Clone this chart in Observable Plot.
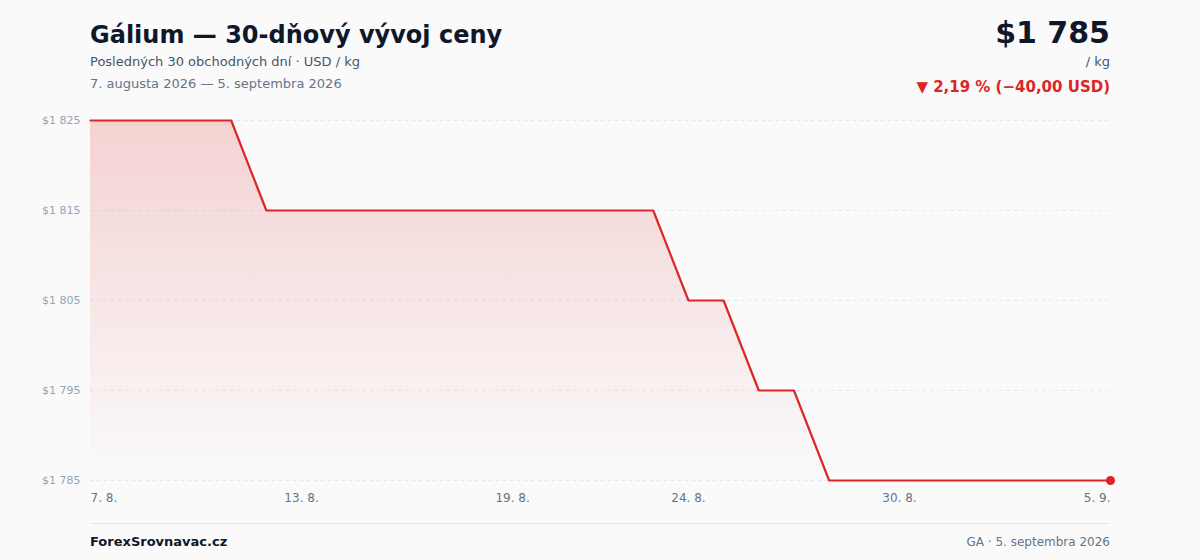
<!DOCTYPE html>
<html>
<head>
<meta charset="utf-8">
<script src="https://cdn.jsdelivr.net/npm/d3@7"></script>
<script src="https://cdn.jsdelivr.net/npm/@observablehq/plot@0.6"></script>
<style>
  html, body { margin: 0; padding: 0; background: #fafafa; }
  body { width: 1200px; height: 560px; overflow: hidden; font-family: "DejaVu Sans", sans-serif; }
  .hdr, .ftr { position: relative; width: 1200px; }
  .hdr { height: 100px; }
  .ftr { height: 40px; }
  .t { position: absolute; line-height: 1; white-space: nowrap; }
  #chart svg { display: block; }
</style>
</head>
<body>
<div class="hdr">
  <div class="t" style="left:90px; top:22.5px; font-size:24px; font-weight:bold; color:#0f172a;">Gálium — 30-dňový vývoj ceny</div>
  <div class="t" style="left:90px; top:55px; font-size:13px; color:#475569;">Posledných 30 obchodných dní · USD / kg</div>
  <div class="t" style="left:90px; top:76.5px; font-size:13px; color:#64748b;">7. augusta 2026 — 5. septembra 2026</div>
  <div class="t" style="right:90px; top:17.5px; font-size:30px; font-weight:bold; color:#0f172a;">$1 785</div>
  <div class="t" style="right:90px; top:54.5px; font-size:13px; color:#475569;">/ kg</div>
  <div class="t" style="right:90px; top:79.5px; font-size:15px; font-weight:bold; color:#dc2626;">▼ 2,19 % (−40,00 USD)</div>
</div>
<div id="chart"></div>
<div class="ftr">
  <div style="position:absolute; left:90px; width:1020px; top:3px; height:1px; background:#e5e7eb;"></div>
  <div class="t" style="left:90px; top:15px; font-size:13px; font-weight:bold; color:#0f172a;">ForexSrovnavac.cz</div>
  <div class="t" style="right:90px; top:15.5px; font-size:12px; color:#64748b;">GA · 5. septembra 2026</div>
</div>
<script>
// Data
const dates = [
  "2026-08-07","2026-08-08","2026-08-09","2026-08-10","2026-08-11",
  "2026-08-12","2026-08-13","2026-08-14","2026-08-15","2026-08-16",
  "2026-08-17","2026-08-18","2026-08-19","2026-08-20","2026-08-21",
  "2026-08-22","2026-08-23","2026-08-24","2026-08-25","2026-08-26",
  "2026-08-27","2026-08-28","2026-08-29","2026-08-30","2026-08-31",
  "2026-09-01","2026-09-02","2026-09-03","2026-09-04","2026-09-05"
];
const prices = [
  1825, 1825, 1825, 1825, 1825,
  1815, 1815, 1815, 1815, 1815, 1815, 1815, 1815, 1815, 1815, 1815, 1815,
  1805, 1805,
  1795, 1795,
  1785, 1785, 1785, 1785, 1785, 1785, 1785, 1785, 1785
];
const yTicks = [1785, 1795, 1805, 1815, 1825];
const xTickDates = ["2026-08-07","2026-08-13","2026-08-19","2026-08-24","2026-08-30","2026-09-05"];
const xTickLabels = ["7. 8.","13. 8.","19. 8.","24. 8.","30. 8.","5. 9."];

const data = dates.map((d, i) => ({date: new Date(d + "T00:00:00Z"), value: prices[i]}));
const xticks = xTickDates.map((d, i) => ({date: new Date(d + "T00:00:00Z"), label: xTickLabels[i]}));
const yMin = d3.min(yTicks), yMax = d3.max(yTicks);
const fmtY = v => "$" + d3.format(",")(v).replace(/,/g, " ");
const RED = "#dc2626";

const defs = () => {
  const g = d3.create("svg:defs");
  const lg = g.append("linearGradient").attr("id", "gaGrad").attr("x1", 0).attr("y1", 0).attr("x2", 0).attr("y2", 1);
  lg.append("stop").attr("offset", "0%").attr("stop-color", RED).attr("stop-opacity", 0.19);
  lg.append("stop").attr("offset", "100%").attr("stop-color", RED).attr("stop-opacity", 0);
  return g.node();
};

const chart = Plot.plot({
  width: 1200,
  height: 420,
  marginLeft: 90,
  marginRight: 90,
  marginTop: 20,
  marginBottom: 40,
  style: {background: "transparent", fontFamily: "DejaVu Sans, sans-serif"},
  x: {type: "utc", domain: [data[0].date, data[data.length - 1].date], axis: null},
  y: {domain: [yMin, yMax], axis: null},
  marks: [
    defs,
    Plot.gridY(yTicks, {stroke: "#e2e8f0", strokeOpacity: 1, strokeWidth: 1, strokeDasharray: "3,4"}),
    Plot.areaY(data, {x: "date", y1: d => yMin, y2: "value", fill: "url(#gaGrad)"}),
    Plot.lineY(data, {x: "date", y: "value", stroke: RED, strokeWidth: 2.2, strokeLinejoin: "miter"}),
    Plot.dot([data[data.length - 1]], {x: "date", y: "value", r: 4.5, fill: RED, stroke: "none"}),
    Plot.axisY(yTicks, {tickSize: 0, tickPadding: 10, tickFormat: fmtY, fontSize: 11, color: "#94a3b8", label: null}),
    Plot.text(xticks.slice(0, 1), {x: "date", text: "label", frameAnchor: "bottom", dy: 21, textAnchor: "start", fontSize: 12, fill: "#64748b"}),
    Plot.text(xticks.slice(1, -1), {x: "date", text: "label", frameAnchor: "bottom", dy: 21, textAnchor: "middle", fontSize: 12, fill: "#64748b"}),
    Plot.text(xticks.slice(-1), {x: "date", text: "label", frameAnchor: "bottom", dy: 21, textAnchor: "end", fontSize: 12, fill: "#64748b"})
  ]
});
document.getElementById("chart").appendChild(chart);
</script>
</body>
</html>
